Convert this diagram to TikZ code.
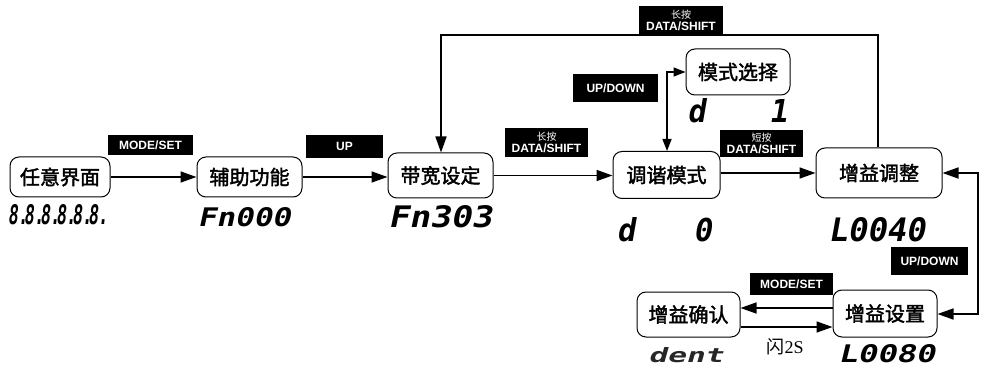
\documentclass[tikz,border=0pt]{standalone}
\usepackage{fontspec}
\usetikzlibrary{arrows.meta}
\newfontfamily\cjk{Noto Sans CJK SC}[FakeBold=2]
\newfontfamily\cjkl{Noto Sans CJK SC}
\newfontfamily\labfont{Liberation Sans Bold}
\newfontfamily\segfont{DejaVu Sans Mono Bold}[FakeSlant=0.18]
\newfontfamily\serfont{Liberation Serif}
\newcommand{\segtxt}[3]{\resizebox{#1pt}{#2pt}{\segfont #3}}
\newcommand{\dk}{\kern-0.24em}
\tikzset{
  box/.style={draw, line width=1pt, rounded corners=9pt, inner sep=0pt, font=\cjk\fontsize{20}{20}\selectfont},
  lab/.style={fill=black, text=white, inner sep=0pt, align=center, font=\labfont\fontsize{12}{12}\selectfont},
  seg/.style={inner sep=0pt, text=black},
  conn/.style={line width=1.6pt, -{Triangle[length=16pt,width=11pt]}},
  conn2/.style={line width=1.6pt, {Triangle[length=16pt,width=11pt]}-{Triangle[length=16pt,width=11pt]}},
  connud/.style={line width=1.4pt, {Triangle[length=12pt,width=9pt]}-{Triangle[length=12pt,width=9pt]}}
}
\begin{document}
\begin{tikzpicture}[x=1pt,y=-1pt]
\useasboundingbox (0,0) rectangle (981,371);
% boxes
\node[box, minimum width=100pt, minimum height=40pt] (A) at (60,177) {任意界面};
\node[box, minimum width=105pt, minimum height=40pt] (B) at (249.5,177) {辅助功能};
\node[box, minimum width=105pt, minimum height=45pt] (C) at (440.5,175.5) {带宽设定};
\node[box, minimum width=107pt, minimum height=47pt] (D) at (666.5,175) {调谐模式};
\node[box, minimum width=104pt, minimum height=46pt] (E) at (738,72) {模式选择};
\node[box, minimum width=126pt, minimum height=50pt] (F) at (879,173) {增益调整};
\node[box, minimum width=103pt, minimum height=45pt] (G) at (688.5,314.5) {增益确认};
\node[box, minimum width=104pt, minimum height=47pt] (H) at (885,313.5) {增益设置};
% labels
\node[lab, minimum width=85pt, minimum height=20pt] (l1) at (150.5,145) {MODE/SET};
\node[lab, minimum width=77pt, minimum height=23pt] (l2) at (344.5,146.5) {UP};
\node[lab, minimum width=83pt, minimum height=29pt] (l3) at (546.5,142.5) {{\cjkl\fontsize{10}{11}\selectfont 长按}\\DATA/SHIFT};
\node[lab, minimum width=84pt, minimum height=29pt] (l4) at (681,20.5) {{\cjkl\fontsize{10}{11}\selectfont 长按}\\DATA/SHIFT};
\node[lab, minimum width=85pt, minimum height=28pt] (l5) at (615.5,88) {UP/DOWN};
\node[lab, minimum width=83pt, minimum height=27pt] (l6) at (761.5,143.5) {{\cjkl\fontsize{10}{11}\selectfont 短按}\\DATA/SHIFT};
\node[lab, minimum width=77pt, minimum height=28pt] (l7) at (929.5,261) {UP/DOWN};
\node[lab, minimum width=83pt, minimum height=22pt] (l8) at (791.5,284) {MODE/SET};
% displays
\node[seg] (sA) at (58,215) {\segtxt{100}{20}{8.\dk 8.\dk 8.\dk 8.\dk 8.\dk 8.}};
\node[seg] (sB) at (244,217) {\segtxt{93}{19}{Fn000}};
\node[seg] (sC) at (440,216.5) {\segtxt{104}{22}{Fn303}};
\node[seg] (sD) at (664,230) {\segtxt{95}{24}{d\hspace{1.9em}0}};
\node[seg] (sE) at (737,111) {\segtxt{100}{24}{d\hspace{2.1em}1}};
\node[seg] (sF) at (876.5,230) {\segtxt{97}{24}{L0040}};
\node[seg, text=black!85] (sG) at (685.5,355) {\segtxt{75}{15}{dent}};
\node[seg] (sH) at (886.5,354) {\segtxt{97}{18}{L0080}};
\node[inner sep=0pt] (flash) at (785,347) {{\cjkl\fontsize{18}{18}\selectfont 闪}{\serfont\fontsize{18}{18}\selectfont 2S}};
% connectors
\draw[conn] (A.east) -- (B.west);
\draw[conn] (B.east) -- (B.east -| C.west);
\draw[conn] (C.east) -- (C.east -| D.west);
\draw[conn] (D.east |- F.west) -- (F.west);
\coordinate (t1) at (878,35);
\coordinate (t2) at (441,35);
\draw[conn] (F.north -| t1) -- (t1) -- (t2) -- (t2 |- C.north);
\coordinate (ud) at (667,72);
\draw[connud] (E.west) -- (ud) -- (ud |- D.north);
\coordinate (r1) at (978,314);
\coordinate (r2) at (978,173);
\draw[conn2] (H.east |- r1) -- (r1) -- (r2) -- (F.east);
\draw[conn] (H.west |- 0,308) -- (G.east |- 0,308);
\draw[conn] (G.east |- 0,327) -- (H.west |- 0,327);
\end{tikzpicture}
\end{document}
